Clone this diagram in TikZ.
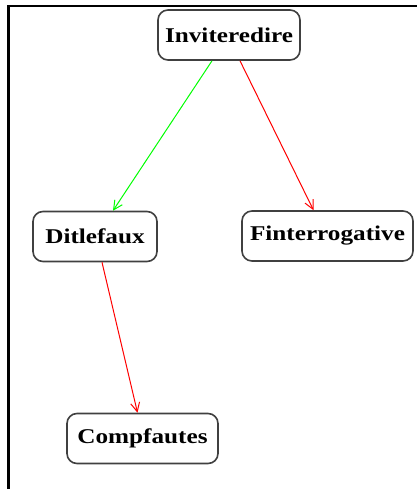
\documentclass[tikz,border=0pt]{standalone}
\usepackage{fontspec}
\setmainfont{Liberation Serif}[FakeStretch=1.2]
\usetikzlibrary{arrows.meta}
\definecolor{boxline}{HTML}{404040}
\tikzset{
  state/.style={draw=boxline, line width=1.6pt, rounded corners=10pt,
    minimum height=50pt, inner sep=0pt, fill=white,
    font=\fontsize{21}{24}\selectfont\bfseries},
  link/.style={line width=1pt, -{Straight Barb[length=9pt,width=9pt]}},
}
\begin{document}
\begin{tikzpicture}[x=1pt,y=-1pt]
  \useasboundingbox (0,0) rectangle (416,489);
  % frame edges
  \draw[line width=2.5pt, line cap=rect] (416,6) -- (8.5,6) -- (8.5,489);

  \node[state, minimum width=142pt] (inv) at (229,35) {Inviteredire};
  \node[state, minimum width=124pt] (dit) at (95,236.5) {Ditlefaux};
  \node[state, minimum width=171pt] (fin) at (327.5,236) {Finterrogative};
  \node[state, minimum width=151pt] (comp) at (142.5,438.5) {Compfautes};

  \draw[link, green] ([xshift=-17pt]inv.south) -- ([xshift=18pt]dit.north);
  \draw[link, red] ([xshift=11pt]inv.south) -- ([xshift=-14pt]fin.north);
  \draw[link, red] ([xshift=7pt]dit.south) -- ([xshift=-5pt]comp.north);
\end{tikzpicture}
\end{document}
